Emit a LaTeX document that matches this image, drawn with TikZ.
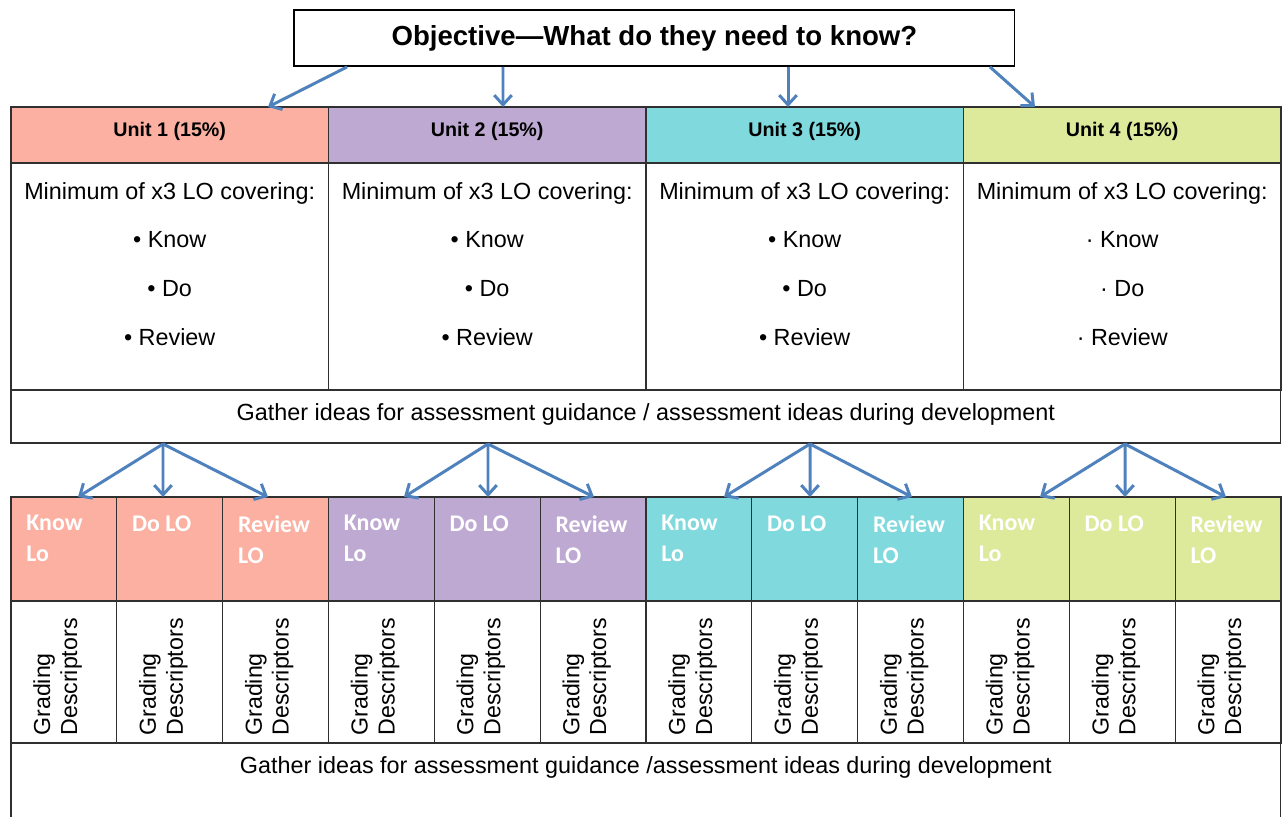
\documentclass[tikz,border=0pt]{standalone}
\usepackage{fontspec}
\setmainfont{Liberation Sans}
\newfontfamily\calibri{Carlito}
\usetikzlibrary{arrows.meta,calc}
\definecolor{uA}{HTML}{FBB0A2}
\definecolor{uB}{HTML}{BEA9D2}
\definecolor{uC}{HTML}{7FD9DD}
\definecolor{uD}{HTML}{DDEA9B}
\definecolor{arrowblue}{HTML}{4F81BD}
\definecolor{gridline}{HTML}{303030}
\begin{document}
\begin{tikzpicture}[x=0.02cm,y=-0.02cm,
  cell/.style={draw=gridline, line width=0.7pt, inner sep=0pt, outer sep=0pt, anchor=north west},
  unitfont/.style={font=\bfseries\fontsize{11.2}{13}\selectfont},
  bodyfont/.style={font=\fontsize{13.3}{27.8}\selectfont},
  gatherfont/.style={font=\fontsize{13.3}{15}\selectfont},
  lotext/.style={font=\calibri\bfseries\fontsize{13.6}{17.6}\selectfont, text=white, align=left, inner sep=0pt, anchor=north west},
  gradtext/.style={font=\fontsize{13.2}{15.3}\selectfont, align=left, inner sep=0pt, rotate=90, anchor=north west},
  arr/.style={draw=arrowblue, line width=1.7pt, -{Straight Barb[length=5.5pt,width=10pt]}}
]
\useasboundingbox (0,0) rectangle (1282,817);

% objective
\node[cell, draw=black, minimum width=14.42cm, minimum height=1.12cm,
  font=\bfseries\fontsize{15.7}{17}\selectfont] (obj) at (294,10) {Objective—What do they need to know?};

% units
\foreach \i/\c/\b in {1/uA/\textbullet,2/uB/\textbullet,3/uC/\textbullet,4/uD/\textperiodcentered}{
  \pgfmathsetmacro\xl{11+(\i-1)*317.5}
  \node[cell, fill=\c, minimum width=6.35cm, minimum height=1.12cm] (h\i) at (\xl,107) {};
  \node[unitfont] (ht\i) at ($(h\i.center)+(0,-4)$) {Unit \i\ (15\%)};
  \node[cell, minimum width=6.35cm, minimum height=4.54cm] (b\i) at (\xl,163) {};
  \node[bodyfont, align=center] (bt\i) at ($(b\i.north)+(0,101)$)
    {Minimum of x3 LO covering:\\ \b\ Know\\ \b\ Do\\ \b\ Review};
}

\node[cell, minimum width=25.4cm, minimum height=1.06cm] (g1) at (11,390) {};
\node[gatherfont] (g1t) at ($(g1.center)+(0,-2)$) {Gather ideas for assessment guidance / assessment ideas during development};

% lower LO cells
\foreach \i/\c in {1/uA,2/uB,3/uC,4/uD}{
  \foreach \j/\lab in {1/{Know\\Lo},2/{Do LO},3/{Review\\LO}}{
    \pgfmathtruncatemacro\k{3*(\i-1)+\j}
    \pgfmathsetmacro\xl{11+(\k-1)*105.8333}
    \node[cell, fill=\c, minimum width=2.1167cm, minimum height=2.08cm] (c\k) at (\xl,497) {};
    \node[lotext] (ct\k) at ($(c\k.north west)+(15,18)$) {\lab};
    \node[cell, minimum width=2.1167cm, minimum height=2.84cm] (d\k) at (\xl,601) {};
    \node[gradtext] (dt\k) at ($(d\k.south west)+(22,-7)$) {Grading\\Descriptors};
  }
}

% bottom gather box (open at bottom)
\node[inner sep=0pt, outer sep=0pt, minimum width=25.4cm, minimum height=1.48cm, anchor=north west] (g2) at (11,743) {};
\draw[draw=gridline, line width=0.7pt] (g2.south west) -- (g2.north west) -- (g2.north east) -- (g2.south east);
\node[gatherfont] (g2t) at ($(g2.north)+(0,24)$) {Gather ideas for assessment guidance /assessment ideas during development};

% top arrows
\draw[arr] ($(obj.south west)+(53,1)$) -- ($(h1.north west)+(257,0)$);
\draw[arr] ($(obj.south west)+(209,1)$) -- ($(h2.north west)+(174.5,0)$);
\draw[arr] ($(obj.south west)+(494,1)$) -- ($(h3.north west)+(142,0)$);
\draw[arr] ($(obj.south west)+(696,1)$) -- ($(h4.north west)+(71.5,0)$);

% lower arrows
\foreach \s/\k/\t in {163/1/78,163/2/163,163/3/268,
                      488/4/404,488/5/488,488/6/594,
                      810/7/724,810/8/810,810/9/912,
                      1125/10/1040,1125/11/1125,1125/12/1226}{
  \pgfmathsetmacro\sx{\s-11}
  \pgfmathsetmacro\tx{\t-11-(\k-1)*105.8333}
  \draw[arr] ($(g1.south west)+(\sx,1)$) -- ($(c\k.north west)+(\tx,0)$);
}
\end{tikzpicture}
\end{document}
